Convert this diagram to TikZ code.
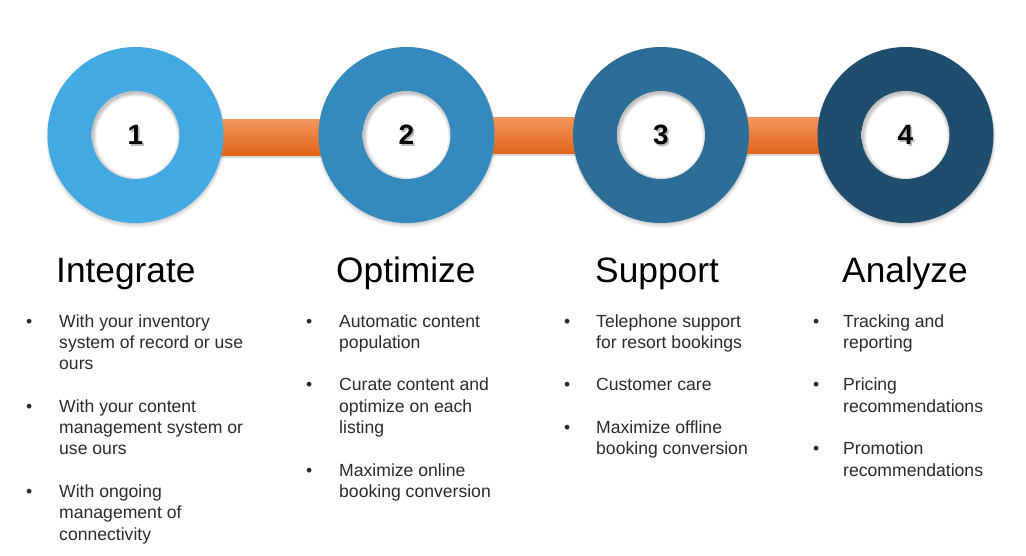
\documentclass[tikz,border=0pt]{standalone}
\usepackage{fontspec}
\setmainfont{Liberation Sans}
\usetikzlibrary{calc}
\definecolor{cA}{HTML}{42A9E3}
\definecolor{cB}{HTML}{3489BD}
\definecolor{cC}{HTML}{2C6E98}
\definecolor{cD}{HTML}{1F4D6E}
\definecolor{barTop}{HTML}{F4965C}
\definecolor{barMid}{HTML}{F07C2C}
\definecolor{barBot}{HTML}{DF6419}
\definecolor{bodygray}{HTML}{2B2B2B}
\pgfdeclareradialshading{innershade}{\pgfpoint{0.8bp}{-1.4bp}}{color(0bp)=(white); color(22.6bp)=(white); color(25bp)=(black!24); color(50bp)=(black!24)}
\pgfdeclarelayer{bg}
\pgfsetlayers{bg,main}
\begin{document}
\begin{tikzpicture}[x=1pt,y=-1pt,
  ring/.style={circle, minimum size=176pt, inner sep=0pt, fill=#1},
  hole/.style={circle, minimum size=88pt, inner sep=0pt, shade, shading=innershade},
  num/.style={font=\fontsize{28}{28}\selectfont\bfseries, text=black, inner sep=0pt},
  numshadow/.style={num, text=black!45, opacity=0.6},
  bar/.style={top color=barTop, middle color=barMid, bottom color=barBot},
  barshadow/.style={fill=black, opacity=0.14},
  title/.style={anchor=base west, inner sep=0pt, font=\fontsize{35.3}{35.3}\selectfont, text=black},
  item/.style={anchor=base west, inner sep=0pt, font=\fontsize{17.6}{21.3}\selectfont, text=bodygray},
  dot/.style={item}
]
\useasboundingbox (0,0) rectangle (1026,556);

% circles
\foreach \n/\x/\c in {1/135.5/cA, 2/406.5/cB, 3/661/cC, 4/905.5/cD} {
  \node[ring=\c] (c\n) at (\x,135) {};
  \node[hole] (h\n) at (c\n.center) {};
  \node[numshadow] (s\n) at ($(h\n.center)+(1.6,1.8)$) {\n};
  \node[num] (n\n) at (h\n.center) {\n};
}

\begin{pgfonlayer}{bg}
  \fill[white] (0,0) rectangle (1026,556);
  % soft drop shadows of the circles
  \foreach \n in {1,...,4} {
    \fill[black, opacity=0.05] ($(c\n.center)+(0.5,3)$) circle (90pt);
    \fill[black, opacity=0.07] ($(c\n.center)+(0.5,2)$) circle (89pt);
    \fill[black, opacity=0.08] ($(c\n.center)+(0.5,1)$) circle (88pt);
  }
  % orange connectors
  \fill[barshadow] ($(c1.center)+(0,-14)$) rectangle ($(c2.center)+(0,23)$);
  \shade[bar] ($(c1.center)+(0,-15.5)$) rectangle ($(c2.center)+(0,20.7)$);
  \fill[barshadow] ($(c2.center)+(0,-16)$) rectangle ($(c3.center)+(0,21.5)$);
  \shade[bar] ($(c2.center)+(0,-17.7)$) rectangle ($(c3.center)+(0,19)$);
  \fill[barshadow] ($(c3.center)+(0,-16)$) rectangle ($(c4.center)+(0,21.5)$);
  \shade[bar] ($(c3.center)+(0,-17.7)$) rectangle ($(c4.center)+(0,19)$);
\end{pgfonlayer}

% titles
\node[title] (t1) at (56,283) {Integrate};
\node[title] (t2) at (336,283) {Optimize};
\node[title] (t3) at (595,283) {Support};
\node[title] (t4) at (842,283) {Analyze};

% column 1
\foreach \r/\t in {0/With your inventory, 1/system of record or use, 2/ours,
  4/With your content, 5/management system or, 6/use ours,
  8/With ongoing, 9/management of, 10/connectivity}
  \node[item] (a\r) at (59,327+21.3*\r) {\t};
\foreach \r in {0,4,8}
  \node[dot] (ab\r) at (26,327+21.3*\r) {•};

% column 2
\foreach \r/\t in {0/Automatic content, 1/population,
  3/Curate content and, 4/optimize on each, 5/listing,
  7/Maximize online, 8/booking conversion}
  \node[item] (b\r) at (339,327+21.3*\r) {\t};
\foreach \r in {0,3,7}
  \node[dot] (bb\r) at (306,327+21.3*\r) {•};

% column 3
\foreach \r/\t in {0/Telephone support, 1/for resort bookings,
  3/Customer care,
  5/Maximize offline, 6/booking conversion}
  \node[item] (d\r) at (596,327+21.3*\r) {\t};
\foreach \r in {0,3,5}
  \node[dot] (db\r) at (564,327+21.3*\r) {•};

% column 4
\foreach \r/\t in {0/Tracking and, 1/reporting,
  3/Pricing, 4/recommendations,
  6/Promotion, 7/recommendations}
  \node[item] (e\r) at (843,327+21.3*\r) {\t};
\foreach \r in {0,3,6}
  \node[dot] (eb\r) at (813,327+21.3*\r) {•};
\end{tikzpicture}
\end{document}
